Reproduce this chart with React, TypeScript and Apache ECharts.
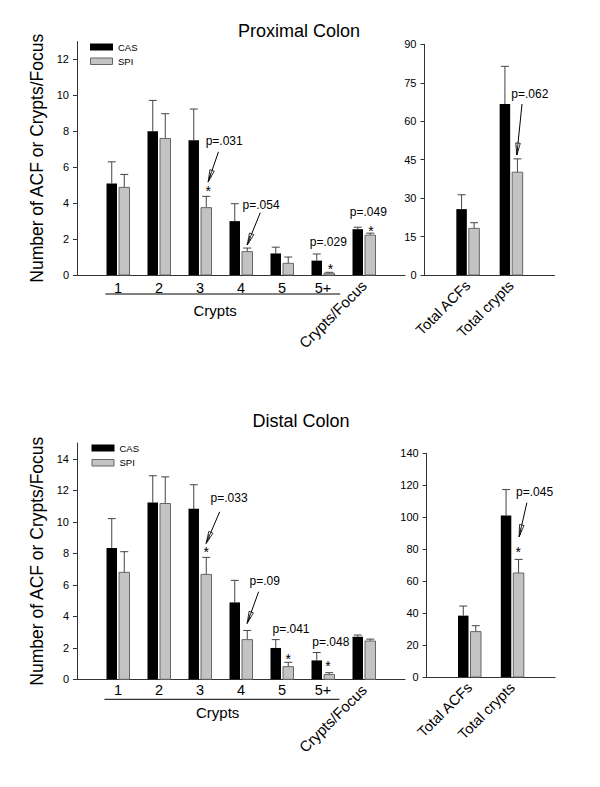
import React, { useEffect, useRef } from "react";
import * as echarts from "echarts";

// ---------------- data ----------------
const cryptCategories = ["1", "2", "3", "4", "5", "5+"];
const focusCategory = "Crypts/Focus";
const totalCategories = ["Total ACFs", "Total crypts"];
const seriesNames = ["CAS", "SPI"];

// x positions (category slots) on the panels' value axes
const leftXs = [1, 2, 3, 4, 5, 6, 7];
const rightXs = [1, 2];

// Proximal colon
const proxCAS = [5.1, 8.0, 7.5, 3.0, 1.2, 0.8, 2.55];
const proxCASErr = [6.3, 9.72, 9.24, 3.97, 1.55, 1.17, 2.66];
const proxSPI = [4.88, 7.6, 3.75, 1.3, 0.65, 0.1, 2.22];
const proxSPIErr = [5.6, 8.98, 4.38, 1.5, 1.0, 0.15, 2.33];
const proxTotCAS = [25.7, 66.7];
const proxTotCASErr = [31.3, 81.4];
const proxTotSPI = [18.2, 40.1];
const proxTotSPIErr = [20.4, 45.3];

// Distal colon
const distCAS = [8.33, 11.23, 10.82, 4.88, 1.99, 1.2, 2.7];
const distCASErr = [10.2, 12.92, 12.35, 6.28, 2.52, 1.7, 2.81];
const distSPI = [6.79, 11.16, 6.66, 2.52, 0.8, 0.3, 2.43];
const distSPIErr = [8.1, 12.85, 7.74, 3.1, 1.08, 0.42, 2.55];
const distTotCAS = [38.4, 101];
const distTotCASErr = [44.4, 117.3];
const distTotSPI = [28.4, 65.1];
const distTotSPIErr = [32.1, 73.6];

// tick labels
const yTicksProx = [0, 2, 4, 6, 8, 10, 12];
const yTicksProxTot = [0, 15, 30, 45, 60, 75, 90];
const yTicksDist = [0, 2, 4, 6, 8, 10, 12, 14];
const yTicksDistTot = [0, 20, 40, 60, 80, 100, 120, 140];

// p-value labels
const pLabelsProx = ["p=.031", "p=.054", "p=.029", "p=.049"];
const pLabelsProxTot = ["p=.062"];
const pLabelsDist = ["p=.033", "p=.09", "p=.041", "p=.048"];
const pLabelsDistTot = ["p=.045"];

const titles = ["Proximal Colon", "Distal Colon"];
const yAxisName = "Number of ACF or Crypts/Focus";
const groupLabel = "Crypts";

// ---------------- layout / style ----------------
const FONT = "'Liberation Sans', Arial, Helvetica, sans-serif";
const GRAY = "#c3c3c3";
const GRAY_BORDER = "#666666";
const AXIS = "#333333";
const ERR = "#444444";

// annotation positions (data units of each panel)
const annProx = {
  texts: [[3.59, 7.48], [4.49, 3.88], [6.13, 1.85], [7.105, 3.53]],
  stars: [[3.2, 4.91], [6.18, 0.56], [7.17, 2.69]],
  arrows: [[3.45, 6.86, 3.2, 5.19], [4.47, 3.47, 4.15, 1.67]],
  labels: pLabelsProx,
  group: { from: 0.69, to: 6.42, labelX: 3.37, lineOffset: 19, labelOffset: 35 },
};
const annProxTot = {
  texts: [[2.43, 70.6]],
  stars: [] as number[][],
  arrows: [[2.25, 66.7, 2.13, 46.8]],
  labels: pLabelsProxTot,
  group: null as any,
};
const annDist = {
  texts: [[3.71, 11.48], [4.58, 6.24], [5.22, 3.2], [6.19, 2.37]],
  stars: [[3.15, 8.31], [5.15, 1.54], [6.12, 1.08]],
  arrows: [[3.48, 10.63, 3.15, 8.63], [4.43, 5.56, 4.15, 3.55]],
  labels: pLabelsDist,
  group: { from: 0.67, to: 6.4, labelX: 3.43, lineOffset: 20, labelOffset: 33 },
};
const annDistTot = {
  texts: [[2.52, 115.8]],
  stars: [[2.14, 80.5]],
  arrows: [[2.34, 109.1, 2.16, 87.8]],
  labels: pLabelsDistTot,
  group: null as any,
};

const panels = [
  {
    grid: { left: 77, top: 41.5, width: 328, height: 233.5 },
    xMax: 8, yMax: 13, yInt: 2, yTicks: yTicksProx, yName: yAxisName,
    xs: leftXs, cas: proxCAS, casErr: proxCASErr, spi: proxSPI, spiErr: proxSPIErr,
    ann: annProx, digitMargin: 5,
  },
  {
    grid: { left: 424.5, top: 44.3, width: 130, height: 230.7 },
    xMax: 3, yMax: 90, yInt: 15, yTicks: yTicksProxTot, yName: "",
    xs: rightXs, cas: proxTotCAS, casErr: proxTotCASErr, spi: proxTotSPI, spiErr: proxTotSPIErr,
    ann: annProxTot, digitMargin: 8,
  },
  {
    grid: { left: 77, top: 443, width: 328, height: 236.3 },
    xMax: 8, yMax: 15, yInt: 2, yTicks: yTicksDist, yName: yAxisName,
    xs: leftXs, cas: distCAS, casErr: distCASErr, spi: distSPI, spiErr: distSPIErr,
    ann: annDist, digitMargin: 3,
  },
  {
    grid: { left: 426.7, top: 453.3, width: 128.4, height: 223.7 },
    xMax: 3, yMax: 140, yInt: 20, yTicks: yTicksDistTot, yName: "",
    xs: rightXs, cas: distTotCAS, casErr: distTotCASErr, spi: distTotSPI, spiErr: distTotSPIErr,
    ann: annDistTot, digitMargin: 8,
  },
];

function barRender(side: number, fill: string, stroke: string) {
  return (params: any, api: any) => {
    const x = api.value(0);
    const v = api.value(1);
    const e = api.value(2);
    const base = api.coord([x, 0]);
    const top = api.coord([x, v]);
    const errTop = api.coord([x, e]);
    const w = 10.5;
    const gap = 1;
    const left = side < 0 ? base[0] - gap - w : base[0] + gap;
    const cx = left + w / 2;
    return {
      type: "group",
      children: [
        { type: "line", shape: { x1: cx, y1: top[1], x2: cx, y2: errTop[1] }, style: { stroke: ERR, lineWidth: 1 } },
        { type: "line", shape: { x1: cx - 4, y1: errTop[1], x2: cx + 4, y2: errTop[1] }, style: { stroke: ERR, lineWidth: 1 } },
        {
          type: "rect",
          shape: { x: left, y: top[1], width: w, height: Math.max(0.5, base[1] - top[1]) },
          style: { fill, stroke, lineWidth: stroke === "none" ? 0 : 1 },
        },
      ],
    };
  };
}

function textEl(x: number, y: number, text: string, fontSize: number, align = "center", vAlign = "middle", rotation = 0) {
  return {
    type: "text",
    x, y, rotation,
    style: {
      text, fill: "#000", fontSize, fontFamily: FONT,
      align, verticalAlign: vAlign, textAlign: align, textVerticalAlign: vAlign,
    },
  };
}

function annRender(spec: any) {
  return (params: any, api: any) => {
    const children: any[] = [];
    spec.texts.forEach((p: number[], i: number) => {
      const c = api.coord(p);
      children.push(textEl(c[0], c[1], spec.labels[i], 12));
    });
    spec.stars.forEach((p: number[]) => {
      const c = api.coord(p);
      children.push(textEl(c[0], c[1] + 4, "*", 14));
    });
    spec.arrows.forEach((a: number[]) => {
      const p1 = api.coord([a[0], a[1]]);
      const p2 = api.coord([a[2], a[3]]);
      const dx = p2[0] - p1[0];
      const dy = p2[1] - p1[1];
      const L = Math.hypot(dx, dy);
      const ux = dx / L, uy = dy / L;
      const nx = -uy, ny = ux;
      const hl = 12, hw = 2.3;
      const bx = p2[0] - ux * hl, by = p2[1] - uy * hl;
      children.push({ type: "line", shape: { x1: p1[0], y1: p1[1], x2: p2[0], y2: p2[1] }, style: { stroke: "#000", lineWidth: 1 } });
      children.push({
        type: "polygon",
        shape: { points: [[p2[0], p2[1]], [bx + nx * hw, by + ny * hw], [bx - nx * hw, by - ny * hw]] },
        style: { fill: "#fff", stroke: "#000", lineWidth: 0.8 },
      });
      [0.35, 0.6].forEach((t) => {
        const cxp = p2[0] - ux * hl * t, cyp = p2[1] - uy * hl * t;
        const hwt = hw * t;
        children.push({
          type: "line",
          shape: { x1: cxp + nx * hwt - ux * 2, y1: cyp + ny * hwt - uy * 2, x2: cxp - nx * hwt + ux * 2, y2: cyp - ny * hwt + uy * 2 },
          style: { stroke: "#000", lineWidth: 0.7 },
        });
      });
      children.push({ type: "line", shape: { x1: bx, y1: by, x2: p2[0], y2: p2[1] }, style: { stroke: "#000", lineWidth: 0.8 } });
    });
    if (spec.group) {
      const g = spec.group;
      const a = api.coord([g.from, 0]);
      const b = api.coord([g.to, 0]);
      const c = api.coord([g.labelX, 0]);
      children.push({ type: "line", shape: { x1: a[0], y1: a[1] + g.lineOffset, x2: b[0], y2: b[1] + g.lineOffset }, style: { stroke: "#000", lineWidth: 1 } });
      children.push(textEl(c[0], c[1] + g.labelOffset, groupLabel, 15));
    }
    return { type: "group", children };
  };
}

function buildOption() {
  const grids = panels.map((p) => ({ ...p.grid, containLabel: false }));
  const xAxis: any[] = [];
  const mainX: number[] = [];
  const axisLabelBase = { color: "#000", fontFamily: FONT };
  panels.forEach((p, g) => {
    const isLeft = p.xs.length > 2;
    mainX.push(xAxis.length);
    if (isLeft) {
      const vals = p.xs.slice(0, cryptCategories.length);
      xAxis.push({
        type: "value", gridIndex: g, min: 0, max: p.xMax, position: "bottom",
        axisLine: { show: true, lineStyle: { color: AXIS, width: 1 } },
        axisTick: { show: false }, splitLine: { show: false },
        axisLabel: {
          ...axisLabelBase, fontSize: 14.5, margin: p.digitMargin, customValues: vals,
          formatter: (v: number) => cryptCategories[vals.indexOf(v)] ?? "",
        },
      });
      const fv = [p.xs[p.xs.length - 1]];
      xAxis.push({
        type: "value", gridIndex: g, min: 0, max: p.xMax, position: "bottom",
        axisLine: { show: false }, axisTick: { show: false }, splitLine: { show: false },
        axisLabel: { ...axisLabelBase, fontSize: 15, margin: 8, rotate: 45, customValues: fv, formatter: () => focusCategory },
      });
    } else {
      xAxis.push({
        type: "value", gridIndex: g, min: 0, max: p.xMax, position: "bottom",
        axisLine: { show: true, lineStyle: { color: AXIS, width: 1 } },
        axisTick: { show: false }, splitLine: { show: false },
        axisLabel: {
          ...axisLabelBase, fontSize: 14.5, margin: 8, rotate: 45, customValues: p.xs,
          formatter: (v: number) => totalCategories[p.xs.indexOf(v)] ?? "",
        },
      });
    }
  });
  const yAxis = panels.map((p, g) => ({
    type: "value", gridIndex: g, min: 0, max: p.yMax, interval: p.yInt,
    axisLine: { show: true, lineStyle: { color: AXIS, width: 1 } },
    axisTick: { show: true, inside: false, length: 4, customValues: p.yTicks, lineStyle: { color: AXIS } },
    axisLabel: { ...axisLabelBase, fontSize: 11, margin: 8, customValues: p.yTicks },
    splitLine: { show: false },
    name: p.yName, nameLocation: "middle", nameGap: 26,
    nameTextStyle: { fontSize: 17.5, color: "#000", fontFamily: FONT },
  }));
  const series: any[] = [];
  panels.forEach((p, g) => {
    series.push({
      type: "custom", name: seriesNames[0], xAxisIndex: mainX[g], yAxisIndex: g, silent: true,
      encode: { x: 0, y: 1 }, itemStyle: { color: "#000" },
      data: p.xs.map((x, i) => [x, p.cas[i], p.casErr[i]]),
      renderItem: barRender(-1, "#000", "none"),
    });
    series.push({
      type: "custom", name: seriesNames[1], xAxisIndex: mainX[g], yAxisIndex: g, silent: true,
      encode: { x: 0, y: 1 }, itemStyle: { color: GRAY },
      data: p.xs.map((x, i) => [x, p.spi[i], p.spiErr[i]]),
      renderItem: barRender(1, GRAY, GRAY_BORDER),
    });
    series.push({
      type: "custom", name: "annotations-" + g, xAxisIndex: mainX[g], yAxisIndex: g, silent: true,
      encode: { x: 0, y: 1 }, data: [[0, 0]],
      renderItem: annRender(p.ann),
    });
  });
  const legendEls = (x: number, y1: number, y2: number) => [
    { type: "rect", shape: { x, y: y1, width: 23, height: 7 }, style: { fill: "#000" } },
    { ...textEl(x + 28, y1 + 3.5, seriesNames[0], 9.5, "left") },
    { type: "rect", shape: { x: x + 0.5, y: y2 + 0.5, width: 22, height: 6.5 }, style: { fill: GRAY, stroke: GRAY_BORDER, lineWidth: 1 } },
    { ...textEl(x + 28, y2 + 3.5, seriesNames[1], 9.5, "left") },
  ];
  const graphic = [
    textEl(299, 31, titles[0], 18),
    textEl(301, 421, titles[1], 18),
    ...legendEls(90, 43.5, 57.5),
    ...legendEls(91.5, 444.5, 459),
  ];
  return {
    animation: false,
    backgroundColor: "#fff",
    grid: grids,
    xAxis,
    yAxis,
    series,
    graphic,
  };
}

export default function App() {
  const ref = useRef<HTMLDivElement>(null);
  useEffect(() => {
    if (!ref.current) return;
    const chart = echarts.init(ref.current, undefined, { renderer: "svg" });
    chart.setOption(buildOption() as any);
    return () => chart.dispose();
  }, []);
  return (
    <div
      ref={ref}
      style={{ position: "absolute", left: 0, top: 0, width: 600, height: 787, background: "#fff" }}
    />
  );
}
